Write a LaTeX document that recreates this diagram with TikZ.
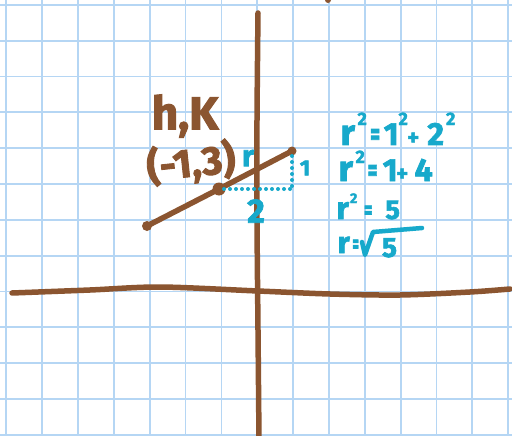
\documentclass[tikz,border=0pt]{standalone}
\usepackage{fontspec}
\setmainfont{Fira Sans}[BoldFeatures={FakeBold=2.2}]
\definecolor{gridblue}{HTML}{B5D6F4}
\definecolor{penbrown}{HTML}{8B5530}
\definecolor{pencyan}{HTML}{17A9CB}
\newcommand\cc[1]{\makebox[0pt][c]{#1}}
\newcommand\rr[1]{\makebox[0pt][c]{\fontsize{#1}{#1}\selectfont r}}
\newcommand\eqs{\makebox[0pt][c]{\scalebox{0.6}[1]{=}}}
\newcommand\pls{\makebox[0pt][c]{\scalebox{0.7}{+}}}
\newcommand\hsq[3]{\makebox[0pt][c]{\raisebox{#1pt}{\fontsize{#2}{#2}\selectfont #3}}}
\tikzset{
  gridline/.style={gridblue, line width=1.8pt},
  pen/.style={penbrown, line width=5.5pt, line cap=round, line join=round},
  cdots/.style={pencyan, line width=4pt, line cap=round, dash pattern=on 0pt off 6pt},
  brownlbl/.style={text=penbrown, font=\bfseries, inner sep=0pt},
  cyanlbl/.style={text=pencyan, font=\bfseries, inner sep=0pt},
  eqline/.style={cyanlbl, anchor=base west},
}
\begin{document}
\begin{tikzpicture}[x=1pt,y=-1pt]
\useasboundingbox (0,0) rectangle (512,436);
\fill[white] (0,0) rectangle (512,436);
% grid
\foreach \i in {0,...,14} \draw[gridline] ({6.3+35.85*\i},0) -- ({6.3+35.85*\i},436);
\foreach \j in {0,...,12} \draw[gridline] (0,{5+35.8*\j}) -- (512,{5+35.8*\j});
% axes
\draw[pen] plot[smooth] coordinates {(12,293) (90,290) (160,287) (258,291) (330,294) (400,295) (470,292) (510,289)};
\draw[pen] plot[smooth] coordinates {(258,13) (257,120) (257,220) (258,330) (259,440)};
\fill[penbrown] (328,0) circle (3);
% segment
\coordinate (A) at (147,226);
\coordinate (H) at (219,189);
\coordinate (B) at (292,151);
\coordinate (C) at (292,189);
\draw[pen] (A) -- (H) -- (B);
\fill[penbrown] (A) circle (5);
\fill[penbrown] (H) circle (6.5);
\fill[penbrown] (B) circle (4.5);
\draw[cdots] ([xshift=5pt]H) -- (C);
\draw[cdots] ([yshift=-5pt]B) -- (C);
% labels
\node[brownlbl, font=\bfseries\fontsize{46}{46}\selectfont] (hk) at (185,116) {h,K};
\node[brownlbl, font=\bfseries\fontsize{40}{40}\selectfont, rotate=6] (pt) at (191,163) {(-1,3)};
\node[cyanlbl, font=\bfseries\fontsize{30}{30}\selectfont] (r) at (248,158) {r};
\node[cyanlbl, font=\bfseries\fontsize{22}{22}\selectfont] (one) at (305,168) {1};
\node[cyanlbl, font=\bfseries\fontsize{34}{34}\selectfont] (two) at (256,211) {2};
% equations
\node[eqline, font=\bfseries\fontsize{32}{32}\selectfont] (eq1) at (347.5,145)
  {\rr{36}\hspace{14.5pt}\hsq{20}{18}{2}\hspace{13pt}\eqs\hspace{16pt}\cc{1}\hspace{12pt}\hsq{20}{18}{2}\hspace{10pt}\pls\hspace{22.5pt}\cc{2}\hspace{15pt}\hsq{20}{18}{2}};
\node[eqline, font=\bfseries\fontsize{32}{32}\selectfont] (eq2) at (345.5,181)
  {\rr{36}\hspace{14.5pt}\hsq{18}{18}{2}\hspace{12.5pt}\eqs\hspace{17.5pt}\cc{1}\hspace{12pt}\pls\hspace{21.5pt}\cc{4}};
\node[eqline, font=\bfseries\fontsize{27}{27}\selectfont] (eq3) at (342.5,219)
  {\rr{31}\hspace{11pt}\hsq{16}{14}{2}\hspace{14.5pt}\eqs\hspace{24.5pt}\cc{5}};
\node[eqline, font=\bfseries\fontsize{27}{27}\selectfont] (eq4) at (343.5,253)
  {\rr{30}\hspace{12pt}\makebox[0pt][c]{\scalebox{0.45}[1]{=}}};
\node[cyanlbl, anchor=base, font=\bfseries\fontsize{28}{28}\selectfont] (five) at (389.5,257) {5};
\draw[pencyan, line width=4.5pt, line cap=round, line join=round]
  (362,242) -- (365,255) -- (373,232) -- (422,228);
\end{tikzpicture}
\end{document}
